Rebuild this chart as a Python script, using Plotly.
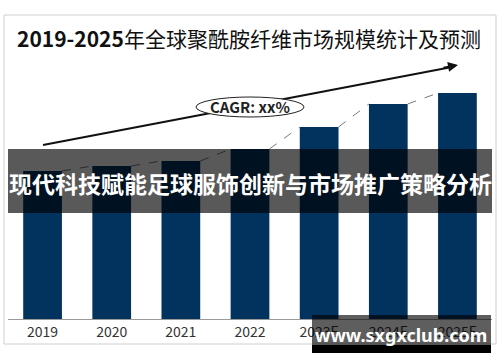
import plotly.graph_objects as go

years = ["2019", "2020", "2021", "2022", "2023E", "2024E", "2025E"]
market_size = [148, 153, 158, 170, 192, 215, 226]

title_text = "<b>2019-2025</b>年全球聚酰胺纤维市场规模统计及预测"
cagr_text = "<b>CAGR: xx%</b>"
banner_text = "<b>现代科技赋能足球服饰创新与市场推广策略分析</b>"
watermark_text = "<b>www.sxgxclub.com</b>"

W, H = 500, 362
def px(x):
    return x / W
def py(y):
    return (H - y) / H

BAR_W = 0.56
font_cjk = "Noto Sans CJK SC, Noto Sans, sans-serif"

xs = list(range(len(years)))
fig = go.Figure()
fig.add_trace(go.Bar(x=xs, y=market_size, width=BAR_W,
                     marker=dict(color="#02335f", line=dict(width=0)),
                     hoverinfo="skip"))

# dashed connectors between bar tops
for i in range(len(years) - 1):
    fig.add_trace(go.Scatter(
        x=[xs[i] + BAR_W / 2, xs[i + 1] - BAR_W / 2],
        y=[market_size[i], market_size[i + 1]],
        mode="lines", line=dict(color="#7a7a7a", width=1, dash="dash"),
        hoverinfo="skip"))

y_top_px = 60
y_base_px = 319
fig.update_layout(
    width=W, height=H, showlegend=False,
    margin=dict(l=0, r=0, t=0, b=0),
    paper_bgcolor="white", plot_bgcolor="white",
    xaxis=dict(domain=[px(8), px(492)], range=[-0.5, len(years) - 0.5],
               tickmode="array", tickvals=xs, ticktext=years,
               showgrid=False, zeroline=False, showline=True,
               linecolor="#9a9a9a", linewidth=1, ticks="",
               tickfont=dict(family=font_cjk, size=14, color="#333333")),
    yaxis=dict(domain=[py(y_base_px), py(y_top_px)],
               range=[0, y_base_px - y_top_px],
               visible=False, showgrid=False, zeroline=False),
)

shapes = []
# outer frame
shapes.append(dict(type="rect", xref="paper", yref="paper",
                   x0=px(4), x1=px(496), y0=py(344), y1=py(15),
                   line=dict(color="#cfcfcf", width=1), fillcolor="rgba(0,0,0,0)",
                   layer="above"))
# trend line (arrow shaft)
shapes.append(dict(type="line", xref="paper", yref="paper",
                   x0=px(43), y0=py(145), x1=px(452), y1=py(67),
                   line=dict(color="#111111", width=2)))
# CAGR ellipse
shapes.append(dict(type="circle", xref="paper", yref="paper",
                   x0=px(196), x1=px(304), y0=py(117), y1=py(97),
                   line=dict(color="#222222", width=1), fillcolor="white"))
# banner
shapes.append(dict(type="rect", xref="paper", yref="paper",
                   x0=px(8), x1=px(492), y0=py(213), y1=py(149),
                   line=dict(width=0), fillcolor="rgba(0,0,0,0.65)", layer="above"))
# watermark box
shapes.append(dict(type="rect", xref="paper", yref="paper",
                   x0=px(312), x1=px(491), y0=py(345), y1=py(315),
                   line=dict(width=0), fillcolor="rgba(0,0,0,0.63)", layer="above"))
shapes.append(dict(type="rect", xref="paper", yref="paper",
                   x0=px(312), x1=px(491), y0=py(353), y1=py(345),
                   line=dict(width=0), fillcolor="black", layer="above"))
fig.update_layout(shapes=shapes)

annotations = [
    dict(text=title_text, xref="paper", yref="paper", x=px(249), y=py(38),
         showarrow=False, xanchor="center", yanchor="middle",
         font=dict(family=font_cjk, size=21, color="#111111")),
    dict(text="", xref="paper", yref="paper", x=px(458), y=py(65),
         showarrow=True, ax=-16, ay=3, arrowhead=2, arrowsize=1,
         arrowwidth=2, arrowcolor="#111111"),
    dict(text=cagr_text, xref="paper", yref="paper", x=px(250), y=py(107),
         showarrow=False, xanchor="center", yanchor="middle",
         font=dict(family=font_cjk, size=15, color="#222222")),
    dict(text=banner_text, xref="paper", yref="paper", x=px(250), y=py(183),
         showarrow=False, xanchor="center", yanchor="middle",
         font=dict(family=font_cjk, size=23, color="white")),
    dict(text=watermark_text, xref="paper", yref="paper", x=px(401), y=py(335),
         showarrow=False, xanchor="center", yanchor="middle",
         font=dict(family="Noto Sans, sans-serif", size=18, color="white")),
]
fig.update_layout(annotations=annotations)

fig.write_html("out.html", config={"displayModeBar": False},
               post_script="document.body.style.margin='0';document.body.style.overflow='hidden';")
